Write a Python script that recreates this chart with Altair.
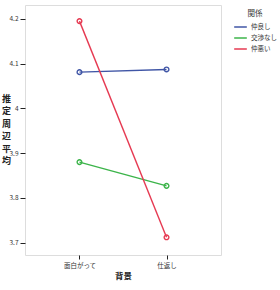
import altair as alt
import pandas as pd

backgrounds = ["面白がって", "仕返し"]
relations = ["仲良し", "交渉なし", "仲悪い"]
values = {
    "仲良し": [4.081, 4.087],
    "交渉なし": [3.880, 3.827],
    "仲悪い": [4.195, 3.712],
}
colors = ["#4056a6", "#3cb44a", "#e63a52"]
y_ticks = [3.7, 3.8, 3.9, 4.0, 4.1, 4.2]

rows = []
for r in relations:
    for b, v in zip(backgrounds, values[r]):
        rows.append({"背景": b, "関係": r, "値": v})
df = pd.DataFrame(rows)

FONT = "Noto Sans CJK JP"

x = alt.X(
    "背景:O",
    sort=backgrounds,
    scale=alt.Scale(type="point", padding=0.626),
    axis=alt.Axis(
        title="背景", titleFontSize=8.5, titleFontWeight="bold", titleColor="#222",
        titlePadding=3, labelAngle=0, labelFontSize=6.5, labelColor="#333",
        labelPadding=3, tickSize=4, tickColor="#222", domain=False, grid=False,
    ),
)
y = alt.Y(
    "値:Q",
    scale=alt.Scale(domain=[3.6725, 4.231], nice=False, zero=False),
    axis=alt.Axis(
        title=["推", "定", "周", "辺", "平", "均"], titleAngle=0, titleFontSize=9,
        titleFontWeight="bold", titleColor="#222", titleAlign="center",
        titleBaseline="top", titleX=-19, titleY=89, titleLineHeight=12.5,
        values=y_ticks, format=".2~f", labelFontSize=6.5, labelColor="#333",
        labelPadding=2, tickSize=5, tickColor="#222", domain=False, grid=False,
    ),
)
color = alt.Color(
    "関係:N",
    scale=alt.Scale(domain=relations, range=colors),
    legend=alt.Legend(
        title="関係", orient="none", legendX=208, legendY=5,
        titleFontSize=7.5, titleFontWeight="normal", titleColor="#333",
        titleAnchor="middle", titlePadding=2,
        labelFontSize=6.5, labelColor="#333", labelOffset=3,
        symbolType="stroke", symbolSize=160, symbolStrokeWidth=1.5,
        rowPadding=0,
    ),
)

base = alt.Chart(df).encode(x=x, y=y, color=color, detail="関係:N")
lines = base.mark_line(strokeWidth=1.4)
points = base.mark_point(shape="circle", filled=False, size=22, strokeWidth=1.4, opacity=1)

chart = (
    alt.layer(lines, points)
    .properties(
        width=196, height=250,
        autosize=alt.AutoSizeParams(type="none"),
        padding={"left": 25, "top": 5, "right": 59, "bottom": 35},
        background="white",
    )
    .configure_view(stroke="#222", strokeWidth=1.3)
    .configure(font=FONT)
)

chart.save("out.html", embed_options={"renderer": "svg", "actions": False})
